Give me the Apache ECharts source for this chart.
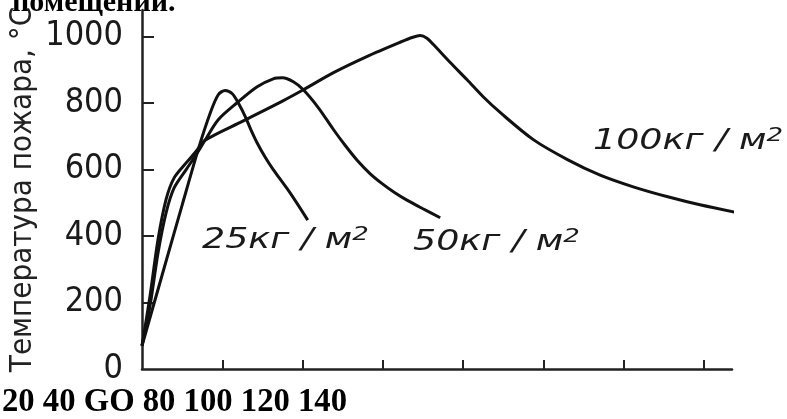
<!DOCTYPE html>
<html>
<head>
<meta charset="utf-8">
<script src="https://cdn.jsdelivr.net/npm/echarts@6/dist/echarts.min.js"></script>
<style>
html,body{margin:0;padding:0;background:#fff;}
#chart{width:787px;height:419px;}
</style>
</head>
<body>
<div id="chart"></div>
<script>
// время, мин / температура, °С
var time25 = [0, 5, 10, 14, 17, 19, 20.7, 22.5, 24, 25.7, 27.2, 28.7, 30.7, 32.7, 36.9, 41.3];
var temp25 = [70, 282, 493, 660, 770, 825, 838, 828, 800, 760, 718, 680, 637, 600, 530, 448];

var time50 = [0, 2, 4, 6, 8, 11, 13.5, 15.7, 19, 23.7, 28.7, 32.7, 35, 37.7, 40.2, 44, 47.6, 50.6, 53.6, 56.8, 60, 63, 66, 70, 74.3];
var temp50 = [70, 190, 350, 470, 545, 600, 645, 688, 750, 801, 849, 873, 876, 864, 840, 785, 722, 673, 628, 588, 556, 530, 508, 482, 455];

var time100 = [0, 2, 4, 6, 8, 11, 13.5, 15.7, 25, 35, 40.2, 47.6, 56, 64.3, 67.5, 69.3, 71, 72.6, 76.8, 81, 85, 89.3, 97.5, 106, 114, 122.4, 131, 139, 151];
var temp100 = [70, 220, 390, 510, 575, 620, 655, 688, 745, 806, 840, 891, 940, 983, 998, 1003, 995, 976, 922, 870, 819, 771, 690, 630, 584, 548, 518, 494, 464];

var yLabels = [0, 200, 400, 600, 800, 1000];
var yTicks = [200, 400, 600, 800, 1000];
var xTicks = [20, 40, 60, 80, 100, 120, 140];
var bottomLabels = ['20', '40', 'GO', '80', '100', '120', '140'];
var curveLabels = ['25кг / м', '50кг / м', '100кг / м'];

function pairs(t, v){
	var out = [];
	for(var i=0;i<t.length;i++){
		out.push([t[i], v[i]]);
	}
	return out;
}

function curve(data){
	return {
		type: 'line',
		data: data,
		showSymbol: false,
		smooth: 0.3,
		clip: false,
		lineStyle: {color: '#111', width: 3}
	};
}

// подписи кривых: широкий наклонный шрифт
function label(text, x, y){
	return {
		type: 'text',
		x: x,
		y: y,
		scaleX: 1.3,
		style: {
			text: '{a|' + text + '}{s|2}',
			verticalAlign: 'middle',
			rich: {
				a: {fontFamily: 'DejaVu Sans', fontStyle: 'italic', fontSize: 28, lineHeight: 33, fill: '#1a1a1a'},
				s: {fontFamily: 'DejaVu Sans', fontStyle: 'italic', fontSize: 20, lineHeight: 20, verticalAlign: 'top', fill: '#1a1a1a'}
			}
		}
	};
}

var chart = echarts.init(document.getElementById('chart'));
var axisColor = '#222';
var condensed = "'DejaVu Sans Condensed', 'Liberation Sans Narrow', sans-serif";

var option = {
	animation: false,
	grid: {left: 142, right: 55, top: 10, bottom: 50, outerBoundsMode: 'none'},
	xAxis: {
		type: 'value',
		min: 0,
		max: 147,
		axisLine: {show: true, lineStyle: {color: axisColor, width: 2.5}},
		axisTick: {show: true, inside: true, length: 9, customValues: xTicks, lineStyle: {color: axisColor, width: 2}},
		axisLabel: {show: false},
		splitLine: {show: false}
	},
	yAxis: {
		type: 'value',
		min: 0,
		max: 1080,
		name: 'Температура пожара, °С',
		nameLocation: 'middle',
		nameRotate: 90,
		nameGap: 104,
		nameMoveOverlap: false,
		nameTextStyle: {fontFamily: condensed, fontSize: 31, color: '#222'},
		axisLine: {show: true, lineStyle: {color: axisColor, width: 2.5}},
		axisTick: {show: true, inside: true, length: 12, customValues: yTicks, lineStyle: {color: axisColor, width: 2}},
		axisLabel: {
			customValues: yLabels,
			margin: 19,
			fontFamily: condensed,
			fontSize: 34,
			color: '#1a1a1a',
			formatter: function(v){ return String(v); }
		},
		splitLine: {show: false}
	},
	series: [
		curve(pairs(time25, temp25)),
		curve(pairs(time50, temp50)),
		curve(pairs(time100, temp100))
	],
	graphic: [
		label(curveLabels[0], 202, 241),
		label(curveLabels[1], 413, 243),
		label(curveLabels[2], 593, 142),
		{
			type: 'text', x: 12, y: 3,
			style: {text: 'помещений.', font: 'bold 30px "Liberation Serif", serif', fill: '#000', verticalAlign: 'middle'}
		},
		{
			type: 'text', x: 2, y: 403,
			style: {text: bottomLabels.join(' '), font: 'bold 32.7px "Liberation Serif", serif', fill: '#000', verticalAlign: 'middle'}
		}
	]
};

chart.setOption(option);
</script>
</body>
</html>
